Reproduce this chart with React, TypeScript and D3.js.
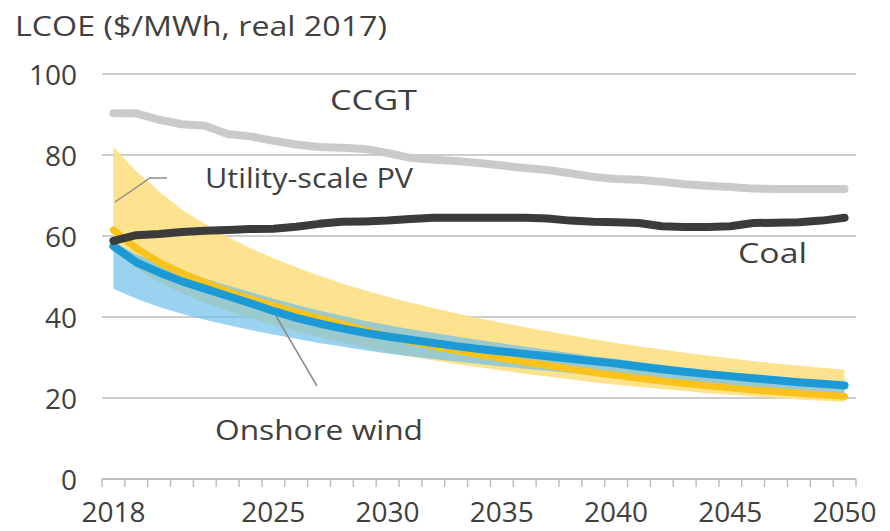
import React from 'react';
import * as d3 from 'd3';

const years = [
  2018, 2019, 2020, 2021, 2022, 2023, 2024, 2025, 2026, 2027, 2028,
  2029, 2030, 2031, 2032, 2033, 2034, 2035, 2036, 2037, 2038, 2039,
  2040, 2041, 2042, 2043, 2044, 2045, 2046, 2047, 2048, 2049, 2050,
];
const yearLabels = [2018, 2025, 2030, 2035, 2040, 2045, 2050];
const yTicks = [0, 20, 40, 60, 80, 100];

const ccgt = [90.3, 90.3, 88.7, 87.6, 87.2, 85.2, 84.6, 83.5, 82.6, 82.0, 81.8, 81.5, 80.5, 79.3, 78.8, 78.5, 78.0, 77.4, 76.8, 76.3, 75.5, 74.6, 74.1, 73.9, 73.4, 72.8, 72.4, 72.1, 71.7, 71.6, 71.6, 71.6, 71.6];
const coal = [58.8, 60.2, 60.5, 61.0, 61.3, 61.5, 61.7, 61.8, 62.3, 63.0, 63.5, 63.6, 63.8, 64.2, 64.5, 64.5, 64.5, 64.5, 64.5, 64.3, 63.8, 63.5, 63.4, 63.2, 62.4, 62.2, 62.2, 62.4, 63.2, 63.3, 63.4, 63.8, 64.5];
const pvCentral = [61.5, 57, 53.5, 50.8, 48.5, 46.3, 44.5, 42.8, 41.2, 39.7, 38.3, 36.8, 35.3, 34, 32.8, 31.7, 30.7, 29.8, 28.9, 28.1, 27.2, 26.3, 25.6, 24.9, 24.2, 23.6, 23, 22.5, 22, 21.6, 21.2, 20.8, 20.4];
const pvHigh = [82, 76, 71, 66.5, 63, 59.8, 57, 54.5, 52.3, 50.2, 48.3, 46.6, 45, 43.6, 42.2, 40.9, 39.7, 38.6, 37.5, 36.5, 35.5, 34.5, 33.6, 32.8, 32, 31.2, 30.5, 29.8, 29.1, 28.5, 28, 27.5, 27];
const pvLow = [57, 52, 48.5, 45.8, 43.5, 41.5, 39.7, 38, 36.5, 35, 33.7, 32.4, 31.2, 30.2, 29.3, 28.4, 27.6, 26.8, 26, 25.3, 24.6, 23.9, 23.3, 22.7, 22.2, 21.7, 21.2, 20.8, 20.4, 20, 19.6, 19.3, 19];
const windCentral = [57.5, 53.5, 51, 48.8, 47, 45.2, 43.4, 41.5, 39.8, 38.4, 37.2, 36.1, 35.2, 34.4, 33.6, 32.8, 32.1, 31.5, 30.9, 30.3, 29.7, 29.1, 28.5, 27.8, 27.1, 26.5, 25.9, 25.4, 24.9, 24.4, 23.9, 23.5, 23.1];
const windHigh = [58.5, 55.5, 53.2, 51.2, 49.5, 47.8, 46.2, 44.5, 43, 41.6, 40.3, 39.1, 38, 37, 36.1, 35.2, 34.3, 33.5, 32.7, 31.9, 31.1, 30.3, 29.6, 28.9, 28.2, 27.5, 26.9, 26.3, 25.8, 25.3, 24.8, 24.4, 24];
const windLow = [47, 44.5, 42.5, 40.8, 39.3, 38, 36.8, 35.7, 34.6, 33.6, 32.7, 31.8, 31, 30.3, 29.6, 29, 28.4, 27.8, 27.2, 26.7, 26.2, 25.7, 25.2, 24.7, 24.2, 23.7, 23.2, 22.8, 22.4, 22, 21.6, 21.2, 20.8];

const width = 890;
const height = 531;
const font = '"Open Sans", Lato, sans-serif';
const textColor = '#404040';

const App = () => {
  const x = d3.scalePoint<number>().domain(years).range([102, 856]).padding(0.5);
  const y = d3.scaleLinear().domain([0, 100]).range([479, 74]);
  const step = x.step();

  const line = d3
    .line<number>()
    .x((_, i) => x(years[i]) as number)
    .y((d) => y(d));

  const band = (lo: number[], hi: number[]) =>
    d3
      .area<number>()
      .x((_, i) => x(years[i]) as number)
      .y0((_, i) => y(lo[i]))
      .y1((d) => y(d))(hi) as string;

  // tick marks sit between the year categories
  const tickXs = d3.range(years.length + 1).map((i) => 102 + i * step);

  const stroke = { fill: 'none', strokeLinecap: 'round' as const, strokeLinejoin: 'round' as const };

  return (
    <svg width={width} height={height} style={{ display: 'block', background: '#fff' }}>
      <style>{`body { margin: 0; }`}</style>

      <text x={15} y={36} fontFamily={font} fontSize={27} fill={textColor} textLength={372} lengthAdjust="spacingAndGlyphs">
        LCOE ($/MWh, real 2017)
      </text>

      {yTicks.filter((t) => t > 0).map((t) => (
        <line key={t} x1={102} x2={856} y1={y(t)} y2={y(t)} stroke="#bdbdbd" strokeWidth={1.5} />
      ))}
      {yTicks.map((t) => (
        <text
          key={t}
          x={77}
          y={y(t)}
          textAnchor="end"
          dominantBaseline="central"
          fontFamily={font}
          fontSize={28}
          fill={textColor}
        >
          {t}
        </text>
      ))}

      <line x1={102} x2={856} y1={y(0)} y2={y(0)} stroke="#bfbfbf" strokeWidth={2} />
      {tickXs.map((tx, i) => (
        <line key={i} x1={tx} x2={tx} y1={y(0)} y2={y(0) + 8} stroke="#bfbfbf" strokeWidth={1.5} />
      ))}
      {yearLabels.map((yr) => (
        <text
          key={yr}
          x={x(yr)}
          y={522}
          textAnchor="middle"
          fontFamily={font}
          fontSize={28}
          fill={textColor}
        >
          {yr}
        </text>
      ))}

      <path d={band(pvLow, pvHigh)} fill="#fde089" opacity={0.95} />
      <path d={band(windLow, windHigh)} fill="#6fc0e8" opacity={0.7} />

      <path d={line(pvCentral) as string} stroke="#f9c31b" strokeWidth={7} {...stroke} />
      <path d={line(windCentral) as string} stroke="#1b9ad6" strokeWidth={8} {...stroke} />
      <path d={line(ccgt) as string} stroke="#cacaca" strokeWidth={8} {...stroke} />
      <path d={line(coal) as string} stroke="#3b3b3b" strokeWidth={8} {...stroke} />

      <polyline points="115,202 150,178 167,178" fill="none" stroke="#8c8c8c" strokeWidth={1.5} />
      <line x1={276} y1={316} x2={317} y2={386} stroke="#8c8c8c" strokeWidth={1.5} />

      <g fontFamily={font} fontSize={28} fill={textColor}>
        <text x={330} y={110} textLength={87} lengthAdjust="spacingAndGlyphs">CCGT</text>
        <text x={205} y={188} textLength={208} lengthAdjust="spacingAndGlyphs">Utility-scale PV</text>
        <text x={738} y={263} textLength={69} lengthAdjust="spacingAndGlyphs">Coal</text>
        <text x={215} y={440} textLength={208} lengthAdjust="spacingAndGlyphs">Onshore wind</text>
      </g>
    </svg>
  );
};

export default App;
